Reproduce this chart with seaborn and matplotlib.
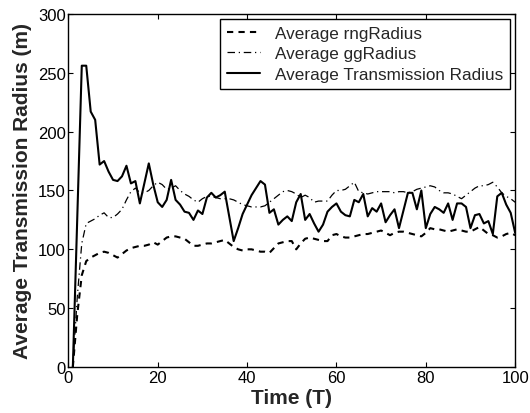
import numpy as np
import pandas as pd
import matplotlib
matplotlib.use("Agg")
import matplotlib.pyplot as plt
import seaborn as sns

time = list(range(1, 101))

rng_radius = [0, 45, 78, 90, 93, 95, 97, 98, 97, 95,
              93, 96, 99, 101, 102, 103, 103, 104, 106, 104,
              107, 110, 111, 111, 110, 109, 106, 103, 103, 104,
              105, 105, 106, 107, 108, 105, 102, 100, 99, 100,
              100, 99, 98, 98, 97, 101, 105, 106, 107, 107,
              100, 105, 109, 110, 109, 108, 107, 107, 112, 113,
              111, 110, 110, 111, 112, 113, 113, 114, 115, 116,
              114, 112, 114, 115, 115, 114, 113, 112, 111, 114,
              118, 117, 117, 116, 115, 116, 117, 116, 115, 115,
              117, 119, 116, 113, 112, 110, 111, 113, 114, 112]

gg_radius = [0, 60, 105, 122, 124, 126, 129, 131, 127, 127,
             130, 134, 142, 149, 152, 148, 148, 150, 154, 157,
             155, 151, 152, 154, 150, 147, 145, 142, 140, 143,
             145, 145, 144, 143, 143, 143, 142, 140, 138, 137,
             136, 136, 136, 137, 140, 143, 146, 149, 150, 149,
             147, 144, 146, 144, 140, 141, 141, 141, 146, 150,
             150, 151, 154, 157, 149, 148, 147, 148, 149, 149,
             149, 149, 148, 149, 149, 148, 149, 151, 152, 153,
             154, 153, 150, 148, 148, 147, 145, 143, 146, 149,
             152, 154, 154, 155, 157, 153, 148, 145, 143, 140]

tx_radius = [0, 128, 256, 256, 217, 210, 172, 175, 166, 159,
             158, 162, 171, 156, 158, 139, 156, 173, 155, 140,
             136, 142, 159, 142, 138, 132, 131, 125, 133, 130,
             144, 148, 144, 146, 149, 128, 107, 118, 130, 138,
             146, 152, 158, 155, 131, 134, 121, 125, 128, 124,
             140, 147, 125, 130, 122, 115, 121, 132, 136, 139,
             132, 129, 128, 142, 140, 147, 128, 135, 132, 139,
             123, 129, 134, 118, 133, 148, 148, 134, 150, 118,
             130, 136, 134, 131, 139, 125, 139, 139, 136, 118,
             129, 130, 122, 124, 113, 145, 148, 138, 131, 114]

labels = ["Average rngRadius", "Average ggRadius", "Average Transmission Radius"]
x_ticks = [0, 20, 40, 60, 80, 100]
y_ticks = [0, 50, 100, 150, 200, 250, 300]

sns.set_style("ticks")
plt.rcParams["font.family"] = ["Liberation Sans", "DejaVu Sans"]
plt.rcParams["xtick.direction"] = "in"
plt.rcParams["ytick.direction"] = "in"

df = pd.DataFrame({"t": time, "rng": rng_radius, "gg": gg_radius, "tx": tx_radius})

fig = plt.figure(figsize=(5.30, 4.14), dpi=100)
ax = fig.add_axes([0.129, 0.111, 0.843, 0.853])

sns.lineplot(data=df, x="t", y="rng", ax=ax, color="black", lw=1.5,
             linestyle=(0, (3, 2.5)), label=labels[0])
sns.lineplot(data=df, x="t", y="gg", ax=ax, color="black", lw=0.9,
             linestyle=(0, (6, 3, 1, 3)), label=labels[1])
sns.lineplot(data=df, x="t", y="tx", ax=ax, color="black", lw=1.5,
             linestyle="-", label=labels[2])

ax.set_xlim(0, 100)
ax.set_ylim(0, 300)
ax.set_xticks(x_ticks)
ax.set_yticks(y_ticks)
ax.tick_params(axis="both", which="both", direction="in", length=3.5, width=0.8,
               top=True, right=True, labelsize=12, colors="black", pad=2)
for sp in ax.spines.values():
    sp.set_visible(True)
    sp.set_linewidth(1.0)
    sp.set_color("black")

ax.set_xlabel("Time (T)", fontsize=15, fontweight="bold", labelpad=2)
ax.set_ylabel("Average Transmission Radius (m)", fontsize=15, fontweight="bold", labelpad=4)

leg = ax.legend(loc="upper right", fontsize=12.3, frameon=True, fancybox=False,
                borderaxespad=0.3, handlelength=1.9, handletextpad=0.9,
                labelspacing=0.32, borderpad=0.4)
leg.get_frame().set_edgecolor("black")
leg.get_frame().set_linewidth(1.0)
leg.get_frame().set_alpha(1)

fig.savefig("out.png", dpi=100)
